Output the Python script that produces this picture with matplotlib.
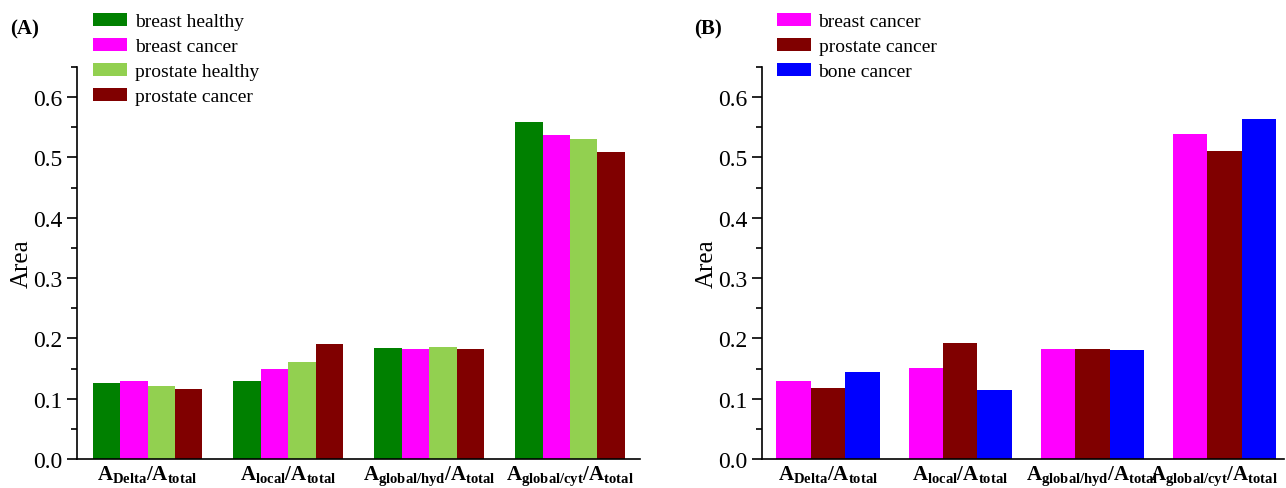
import numpy as np
import matplotlib.pyplot as plt
import matplotlib.transforms as mtransforms
from matplotlib.ticker import MultipleLocator

plt.rcParams['font.family'] = 'Liberation Serif'
plt.rcParams['mathtext.fontset'] = 'custom'
plt.rcParams['mathtext.rm'] = 'Liberation Serif'
plt.rcParams['mathtext.bf'] = 'Liberation Serif:bold'

categories = [r'$\mathbf{A_{Delta}/A_{total}}$', r'$\mathbf{A_{local}/A_{total}}$',
              r'$\mathbf{A_{global/hyd}/A_{total}}$', r'$\mathbf{A_{global/cyt}/A_{total}}$']

# panel A
labels_a = ['breast healthy', 'breast cancer', 'prostate healthy', 'prostate cancer']
colors_a = ['#008000', '#FF00FF', '#92D050', '#800000']
breast_healthy = [0.127, 0.130, 0.184, 0.558]
breast_cancer = [0.129, 0.150, 0.183, 0.538]
prostate_healthy = [0.122, 0.161, 0.186, 0.531]
prostate_cancer = [0.117, 0.191, 0.183, 0.509]
vals_a = [breast_healthy, breast_cancer, prostate_healthy, prostate_cancer]

# panel B
labels_b = ['breast cancer', 'prostate cancer', 'bone cancer']
colors_b = ['#FF00FF', '#800000', '#0000FF']
b_breast = [0.130, 0.151, 0.183, 0.539]
b_prostate = [0.118, 0.192, 0.183, 0.511]
b_bone = [0.144, 0.114, 0.181, 0.564]
vals_b = [b_breast, b_prostate, b_bone]

fig = plt.figure(figsize=(12.86, 4.89), dpi=100)
axA = fig.add_axes([0.060, 0.059, 0.438, 0.802])
axB = fig.add_axes([0.5925, 0.059, 0.406, 0.802])


def draw(ax, vals, labels, colors, width, xmax):
    x = np.arange(len(categories))
    n = len(vals)
    bars = []
    for i, (v, c, l) in enumerate(zip(vals, colors, labels)):
        off = (i - (n - 1) / 2) * width
        bars.append(ax.bar(x + off, v, width, color=c, label=l))
    ax.set_xlim(-0.5, xmax)
    ax.set_ylim(0, 0.65)
    ax.yaxis.set_major_locator(MultipleLocator(0.1))
    ax.yaxis.set_minor_locator(MultipleLocator(0.05))
    ax.set_xticks(x)
    ax.set_xticklabels(categories, fontsize=15)
    ax.tick_params(axis='x', length=0, pad=3)
    ax.tick_params(axis='y', which='major', direction='out', length=7, width=1.2, labelsize=17)
    ax.tick_params(axis='y', which='minor', direction='out', length=4, width=1.2)
    ax.set_yticklabels([f'{t:.1f}' for t in ax.get_yticks()])
    for s in ['top', 'right']:
        ax.spines[s].set_visible(False)
    for s in ['left', 'bottom']:
        ax.spines[s].set_linewidth(1.2)
    ax.set_ylabel('Area', fontsize=18)
    return bars


draw(axA, vals_a, labels_a, colors_a, 0.195, 3.5)
draw(axB, vals_b, labels_b, colors_b, 0.26, 3.45)
axA.yaxis.set_label_coords(-0.078, 0.5)
axB.yaxis.set_label_coords(-0.084, 0.5)

# nudge last label in B left so it stays inside the figure
lab = axB.xaxis.get_major_ticks()[-1].label1
lab.set_transform(lab.get_transform() + mtransforms.ScaledTranslation(-8 / 72, 0, fig.dpi_scale_trans))

legkw = dict(frameon=False, fontsize=14, handlelength=1.75, handleheight=0.7,
             labelspacing=0.38, handletextpad=0.4, borderpad=0, borderaxespad=0,
             loc='upper left')
fig.legend(*axA.get_legend_handles_labels(), bbox_to_anchor=(0.0723, 0.972), **legkw)
fig.legend(*axB.get_legend_handles_labels(), bbox_to_anchor=(0.604, 0.972), **legkw)

fig.text(0.008, 0.94, '(A)', fontsize=15, fontweight='bold', va='center')
fig.text(0.540, 0.94, '(B)', fontsize=15, fontweight='bold', va='center')

fig.savefig('out.png', dpi=100)
